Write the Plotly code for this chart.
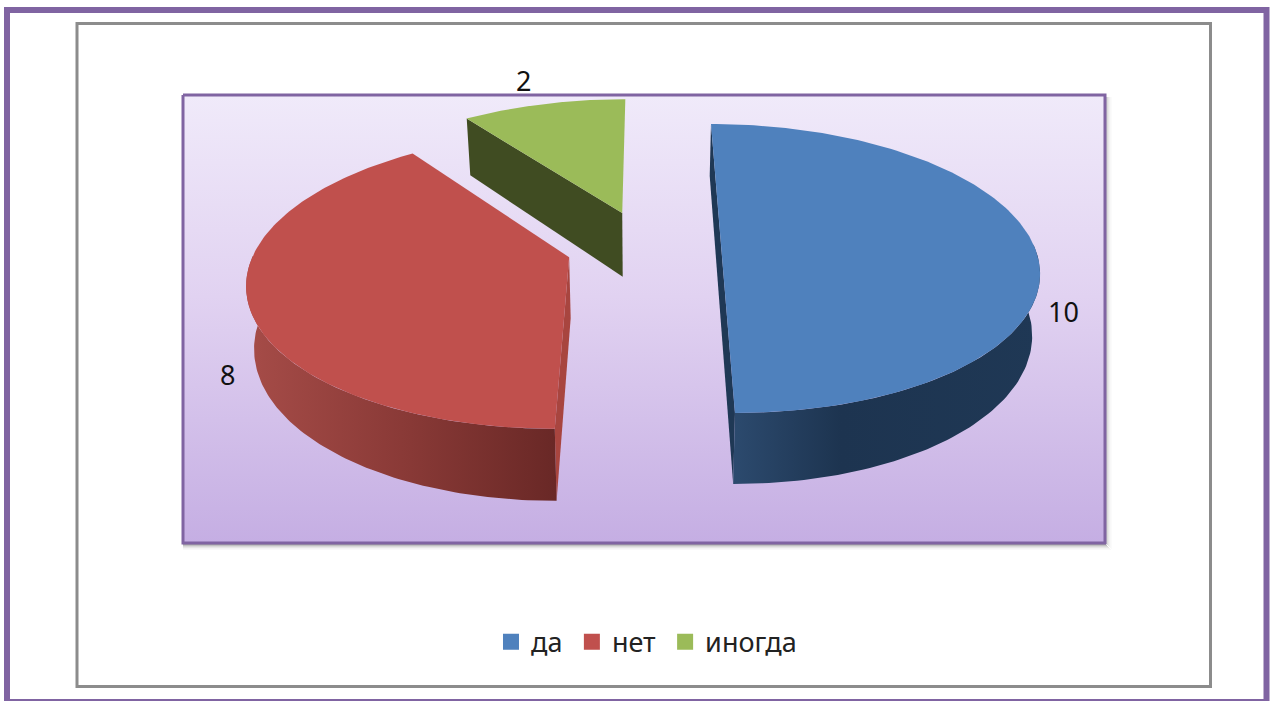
import numpy as np
import plotly.graph_objects as go

categories = ["да", "нет", "иногда"]
values = [10, 8, 2]
top_colors = ["#4f81bd", "#c0504d", "#9bbb59"]
wall_scales = [
    [[0, "#2c4a6e"], [0.35, "#1d3450"], [1, "#1f3855"]],
    [[0, "#a64c48"], [0.5, "#8a3a37"], [1, "#692826"]],
    [[0, "#404c22"], [1, "#404c22"]],
]
cut_colors = ["#1f3855", "#a8453f", "#404c22"]
explode = [0.24, 0.255, 0.255]
depths = [60.0, 60.0, 66.0]
label_pos = [(1063, 311), (227, 374), (523, 80)]

W, H = 1272, 701
XC, YV, D, P = 646.0, -660.0, 906.0, 0.1556
A, TAPER = 313.0, 0.98
LEGEND_GAP = "\u2009"


def project(X, Y, z=0.0):
    s = 1.0 / (1.0 + P * Y)
    k = TAPER if z else 1.0
    return XC + A * X * s * k, YV + (D + z) * s


def slice_geometry(a0, a1, e):
    """a0 > a1 in degrees, clockwise from a0."""
    mid = np.radians((a0 + a1) / 2)
    ox, oy = e * np.cos(mid), e * np.sin(mid)
    t = np.radians(np.linspace(a0, a1, 160))
    return ox, oy, ox + np.cos(t), oy + np.sin(t), t


fig = go.Figure()


def poly(x, y, color=None, scale=None, orient="horizontal", line=None, lw=0):
    x = list(x) + [x[0]]
    y = list(y) + [y[0]]
    kw = dict(x=x, y=y, mode="lines", fill="toself", hoverinfo="skip", showlegend=False,
              line=dict(color=line or color or "rgba(0,0,0,0)", width=lw))
    if scale:
        kw["fillgradient"] = dict(type=orient, colorscale=scale)
    else:
        kw["fillcolor"] = color
    fig.add_trace(go.Scatter(**kw))


# plot-area background (the y axis is reversed, so the scale runs bottom to top)
poly([183, 1105, 1105, 183], [95, 95, 543, 543],
     scale=[[0, "#c5aee3"], [0.55, "#e1d2f1"], [1, "#f0eafa"]], orient="vertical",
     line="#8064a2", lw=3)

fracs = np.array(values, float) / sum(values)
bounds = 90 - 360 * np.concatenate([[0], np.cumsum(fracs)])
slices = [(bounds[i], bounds[i + 1]) for i in range(len(values))]

# draw back to front: green, red, blue
for i in [2, 1, 0]:
    a0, a1 = slices[i]
    ox, oy, ax, ay, t = slice_geometry(a0, a1, explode[i])
    tx, ty = project(ax, ay)
    bx, by = project(ax, ay, depths[i])
    vx, vy = project(ox, oy)
    wx, wy = project(ox, oy, depths[i])
    if i == 2:
        # only the lower-left cut face is visible
        poly([vx, tx[0], bx[0], wx], [vy, ty[0], by[0], wy], color=cut_colors[i])
    elif i == 1:
        poly([tx[0], vx, wx, bx[0]], [ty[0], vy, wy, by[0]], color=cut_colors[i])
    else:
        poly([tx[0], tx[-1], bx[-1], bx[0]], [ty[0], ty[-1], by[-1], by[0]], color=cut_colors[i])
    if i != 2:
        front = np.sin(t) < 0.02
        poly(list(tx[front]) + list(bx[front][::-1]),
             list(ty[front]) + list(by[front][::-1]),
             scale=wall_scales[i])
    poly([vx] + list(tx), [vy] + list(ty), color=top_colors[i])

# data labels
for v, (lx, ly) in zip(values, label_pos):
    fig.add_annotation(x=lx, y=ly, text=str(v), showarrow=False,
                       font=dict(family="Noto Sans", size=27, color="#111111"))

# legend entries
for c, col in zip(categories, top_colors):
    fig.add_trace(go.Scatter(x=[None], y=[None], mode="markers", name=c + LEGEND_GAP,
                             marker=dict(symbol="square", size=18, color=col)))

# frames and shadow
shapes = [
    dict(type="rect", x0=7, y0=10, x1=1266.5, y1=702, line=dict(color="#8064a2", width=6), layer="below"),
    dict(type="rect", x0=77, y0=23.5, x1=1210.5, y1=686.5, line=dict(color="#8c8c8c", width=3), layer="below"),
]
for k, alpha in enumerate([0.45, 0.32, 0.2, 0.12, 0.06, 0.03]):
    shapes.append(dict(type="rect", x0=183, y0=544 + k, x1=1106 + k, y1=545 + k,
                       fillcolor=f"rgba(60,60,60,{alpha})", line=dict(width=0), layer="below"))
    shapes.append(dict(type="rect", x0=1106 + k, y0=97, x1=1107 + k, y1=544 + k,
                       fillcolor=f"rgba(60,60,60,{alpha * 0.6})", line=dict(width=0), layer="below"))

fig.update_layout(
    width=W, height=H, margin=dict(l=0, r=0, t=0, b=0),
    paper_bgcolor="white", plot_bgcolor="white", shapes=shapes,
    xaxis=dict(range=[0, W], visible=False, fixedrange=True),
    yaxis=dict(range=[H, 0], visible=False, fixedrange=True),
    font=dict(family="Noto Sans", color="#222222"),
    legend=dict(orientation="h", x=0.386, y=0.119, xanchor="left", yanchor="top",
                font=dict(size=27, family="Noto Sans", color="#222222"),
                bgcolor="rgba(0,0,0,0)", itemwidth=30, itemclick=False, itemdoubleclick=False,
                tracegroupgap=0),
)

fig.write_html("out.html", config=dict(displayModeBar=False),
               post_script="document.body.style.margin='0';document.body.style.overflow='hidden';")
